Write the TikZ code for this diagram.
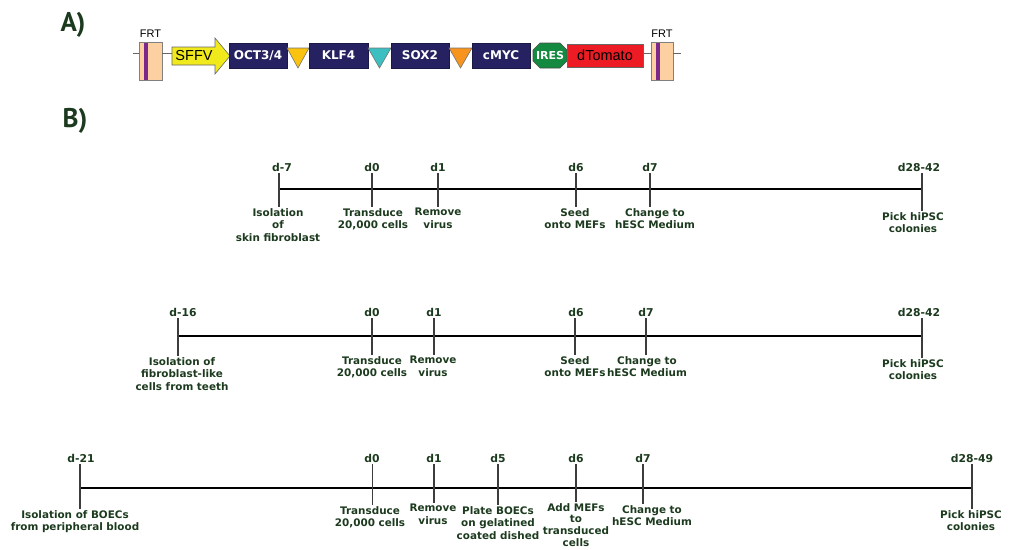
\documentclass[tikz,border=0pt]{standalone}
\usepackage{fontspec}
\setmainfont{DejaVu Sans}
\newfontfamily\arialfont{Liberation Sans}
\newfontfamily\headfont{PT Sans}
\usetikzlibrary{positioning}
\definecolor{txtgreen}{RGB}{28,58,30}
\definecolor{tickgray}{RGB}{60,60,60}
\definecolor{navy}{RGB}{38,34,98}
\definecolor{peach}{RGB}{252,208,160}
\definecolor{frtpurple}{RGB}{123,42,140}
\definecolor{sffvyellow}{RGB}{240,234,28}
\definecolor{gold}{RGB}{249,195,15}
\definecolor{linkteal}{RGB}{60,191,193}
\definecolor{orng}{RGB}{247,148,30}
\definecolor{iresgreen}{RGB}{19,138,63}
\definecolor{tomred}{RGB}{237,28,36}
\tikzset{
	panel/.style={font=\headfont\bfseries\fontsize{27}{30}\selectfont, text=txtgreen, inner sep=0pt},
	daylbl/.style={font=\bfseries\fontsize{10.8}{12}\selectfont, text=txtgreen, anchor=base, inner sep=0pt},
	evlbl/.style={font=\bfseries\fontsize{10.4}{12.5}\selectfont, text=txtgreen, align=center, anchor=north, inner sep=0pt},
	gene/.style={draw=navy!70!black, fill=navy, text=white, font=\bfseries\fontsize{12}{14}\selectfont, minimum height=25pt, inner sep=0pt},
	frt/.style={draw=gray, fill=peach, minimum width=23pt, minimum height=38pt, inner sep=0pt},
	stripe/.style={fill=frtpurple},
	frtlbl/.style={font=\arialfont\fontsize{11}{12}\selectfont, inner sep=0pt},
	linker/.style={draw=black!55, line width=0.6pt},
	backbone/.style={draw=black!60, line width=0.8pt}
}

\begin{document}
\begin{tikzpicture}[x=1pt, y=-1pt, axis/.style={line width=2pt, black}, tick/.style={line width=1.2pt, tickgray, shorten <=2pt, shorten >=1pt}]

	\useasboundingbox (0,0) rectangle (1009,549);

	\node[panel] (pa) at (73,25) {A)};
	\node[panel] (pb) at (75,121) {B)};

	% construct
	\coordinate (bbl) at (133,53);
	\coordinate (bbr) at (681,53);
	\coordinate (sffvtail) at (172,53);

	\node[frt] (frt1) at (150.5,61) {};
	\fill[stripe] (144,42.5) rectangle (147.5,79.5);
	\node[frtlbl, above=4pt of frt1] (frt1lbl) {FRT};

	\filldraw[fill=sffvyellow, draw=black!60, line width=0.6pt] (172,47) -- (215,47) -- (215,38) -- (230,56) -- (215,74) -- (215,65) -- (172,65) -- cycle;
	\node[font=\arialfont\fontsize{14.5}{16}\selectfont, inner sep=0pt] (sffv) at (194,56) {SFFV};

	\node[gene, minimum width=58pt] (oct) at (258,55.5) {OCT3/4};
	\filldraw[linker, fill=gold] (287,48) -- (309,48) -- (298,68) -- cycle;
	\node[gene, minimum width=59pt] (klf) at (338.5,55.5) {KLF4};
	\filldraw[linker, fill=linkteal] (368,48) -- (391,48) -- (379.5,68) -- cycle;
	\node[gene, minimum width=58pt] (sox) at (420,55.5) {SOX2};
	\filldraw[linker, fill=orng] (449,48) -- (472,48) -- (460.5,68) -- cycle;
	\node[gene, minimum width=58pt] (myc) at (501,55.5) {cMYC};

	\filldraw[fill=iresgreen, draw=black!70, line width=0.6pt] (540,43) -- (560,43) -- (567,50) -- (567,61) -- (560,68) -- (540,68) -- (533,61) -- (533,50) -- cycle;
	\node[font=\bfseries\fontsize{11}{13}\selectfont, text=white, inner sep=0pt] (ires) at (550,55.5) {IRES};

	\node[draw=black!60, fill=tomred, minimum width=76pt, minimum height=23pt, inner sep=0pt, font=\arialfont\fontsize{14.5}{16}\selectfont] (dtom) at (605,55.5) {dTomato};

	\node[frt, minimum width=22pt] (frt2) at (662,61) {};
	\fill[stripe] (656,42.5) rectangle (659.5,79.5);
	\node[frtlbl, above=4pt of frt2] (frt2lbl) {FRT};

	\draw[backbone] (bbl) -- (bbl -| frt1.west);
	\draw[backbone] (bbl -| frt1.east) -- (sffvtail);
	\draw[backbone] (bbl -| dtom.east) -- (bbl -| frt2.west);
	\draw[backbone] (bbl -| frt2.east) -- (bbr);

	% timeline 1
	\coordinate (t1a) at (279,189);
	\coordinate (t1b) at (372,189);
	\coordinate (t1c) at (438,189);
	\coordinate (t1d) at (576,189);
	\coordinate (t1e) at (650,189);
	\coordinate (t1f) at (922,189);

	\node[daylbl] (t1da) at (282,171) {d-7};
	\node[daylbl] (t1db) at (372,171) {d0};
	\node[daylbl] (t1dc) at (438,171) {d1};
	\node[daylbl] (t1dd) at (576,171) {d6};
	\node[daylbl] (t1de) at (650,171) {d7};
	\node[daylbl] (t1df) at (919,171) {d28-42};

	\node[evlbl] (t1ea) at (278,208) {Isolation\\of\\skin fibroblast};
	\node[evlbl] (t1eb) at (373,208) {Transduce\\20,000 cells};
	\node[evlbl] (t1ec) at (438,208) {Remove\\virus};
	\node[evlbl] (t1ed) at (575,208) {Seed\\onto MEFs};
	\node[evlbl] (t1ee) at (655,208) {Change to\\hESC Medium};
	\node[evlbl] (t1ef) at (913,212) {Pick hiPSC\\colonies};

	\draw[axis] (t1a) -- (t1f);
	\draw[tick] (t1a |- t1da.south) -- (t1a |- t1ea.north);
	\draw[tick] (t1b |- t1db.south) -- (t1b |- t1eb.north);
	\draw[tick] (t1c |- t1dc.south) -- (t1c |- t1ec.north);
	\draw[tick] (t1d |- t1dd.south) -- (t1d |- t1ed.north);
	\draw[tick] (t1e |- t1de.south) -- (t1e |- t1ee.north);
	\draw[tick] (t1f |- t1df.south) -- (t1f |- t1ef.north);

	% timeline 2
	\coordinate (t2a) at (178,336);
	\coordinate (t2b) at (372,336);
	\coordinate (t2c) at (434,336);
	\coordinate (t2d) at (575,336);
	\coordinate (t2e) at (646,336);
	\coordinate (t2f) at (922,336);

	\node[daylbl] (t2da) at (183,316) {d-16};
	\node[daylbl] (t2db) at (372,316) {d0};
	\node[daylbl] (t2dc) at (434,316) {d1};
	\node[daylbl] (t2dd) at (576,316) {d6};
	\node[daylbl] (t2de) at (646,316) {d7};
	\node[daylbl] (t2df) at (919,316) {d28-42};

	\node[evlbl] (t2ea) at (182,357) {Isolation of\\fibroblast-like\\cells from teeth};
	\node[evlbl] (t2eb) at (372,356) {Transduce\\20,000 cells};
	\node[evlbl] (t2ec) at (433,356) {Remove\\virus};
	\node[evlbl] (t2ed) at (575,356) {Seed\\onto MEFs};
	\node[evlbl] (t2ee) at (647,356) {Change to\\hESC Medium};
	\node[evlbl] (t2ef) at (913,359) {Pick hiPSC\\colonies};

	\draw[axis] (t2a) -- (t2f);
	\draw[tick] (t2a |- t2da.south) -- (t2a |- t2ea.north);
	\draw[tick] (t2b |- t2db.south) -- (t2b |- t2eb.north);
	\draw[tick] (t2c |- t2dc.south) -- (t2c |- t2ec.north);
	\draw[tick] (t2d |- t2dd.south) -- (t2d |- t2ed.north);
	\draw[tick] (t2e |- t2de.south) -- (t2e |- t2ee.north);
	\draw[tick] (t2f |- t2df.south) -- (t2f |- t2ef.north);

	% timeline 3
	\coordinate (t3a) at (80,488);
	\coordinate (t3b) at (372.5,488);
	\coordinate (t3c) at (434,488);
	\coordinate (t3d) at (498,488);
	\coordinate (t3e) at (576,488);
	\coordinate (t3f) at (643,488);
	\coordinate (t3g) at (972,488);

	\node[daylbl] (t3da) at (81,462) {d-21};
	\node[daylbl] (t3db) at (372,462) {d0};
	\node[daylbl] (t3dc) at (434,462) {d1};
	\node[daylbl] (t3dd) at (498,462) {d5};
	\node[daylbl] (t3de) at (576,462) {d6};
	\node[daylbl] (t3df) at (643,462) {d7};
	\node[daylbl] (t3dg) at (972,462) {d28-49};

	\node[evlbl] (t3ea) at (75,510) {Isolation of BOECs\\from peripheral blood};
	\node[evlbl] (t3eb) at (370,506) {Transduce\\20,000 cells};
	\node[evlbl] (t3ec) at (433,504) {Remove\\virus};
	\node[evlbl] (t3ed) at (498,506) {Plate BOECs\\on gelatined\\coated dished};
	\node[evlbl, font=\bfseries\fontsize{10.4}{11.8}\selectfont] (t3ee) at (576,503) {Add MEFs\\to\\transduced\\cells};
	\node[evlbl] (t3ef) at (652,505) {Change to\\hESC Medium};
	\node[evlbl] (t3eg) at (971,510) {Pick hiPSC\\colonies};

	\draw[axis] (t3a) -- (t3g);
	\draw[tick] (t3a |- t3da.south) -- (t3a |- t3ea.north);
	\draw[tick] (t3b |- t3db.south) -- (t3b |- t3eb.north);
	\draw[tick] (t3c |- t3dc.south) -- (t3c |- t3ec.north);
	\draw[tick] (t3d |- t3dd.south) -- (t3d |- t3ed.north);
	\draw[tick] (t3e |- t3de.south) -- (t3e |- t3ee.north);
	\draw[tick] (t3f |- t3df.south) -- (t3f |- t3ef.north);
	\draw[tick] (t3g |- t3dg.south) -- (t3g |- t3eg.north);

\end{tikzpicture}
\end{document}
